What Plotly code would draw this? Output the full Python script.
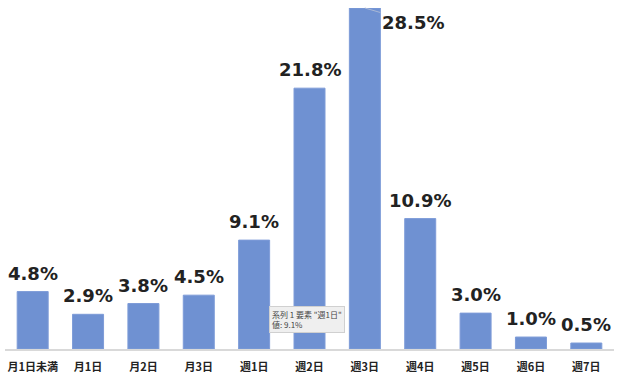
import plotly.graph_objects as go

categories = ["月1日未満", "月1日", "月2日", "月3日", "週1日", "週2日", "週3日", "週4日", "週5日", "週6日", "週7日"]
values = [4.8, 2.9, 3.8, 4.5, 9.1, 21.8, 28.5, 10.9, 3.0, 1.0, 0.5]
labels = [f"{v:.1f}%" for v in values]

tooltip_series = "系列 1"
tooltip_category = "週1日"
tooltip_value = "9.1%"

fig = go.Figure()
fig.add_trace(go.Bar(
    x=categories, y=values,
    marker=dict(color="#6F91D2", line=dict(color="#7E9CD8", width=1)),
    hoverinfo="skip",
))

label_font = dict(family="DejaVu Sans", size=18, color="#222222", weight="bold")
for i, (c, v, t) in enumerate(zip(categories, values, labels)):
    if v == max(values):
        fig.add_annotation(x=c, y=v, text=t, showarrow=True, arrowhead=0,
                           arrowwidth=1, arrowcolor="#A9B8D6", ax=48, ay=14,
                           font=label_font, xanchor="center", yanchor="middle")
    else:
        fig.add_annotation(x=c, y=v, text=t, showarrow=False, yanchor="bottom",
                           yshift=6, font=label_font)

# Excel tooltip captured in the screenshot
fig.add_annotation(x=categories[4], y=0, xref="x", yref="y",
                   text=f'{tooltip_series} 要素 "{tooltip_category}"<br>値: {tooltip_value}',
                   showarrow=False, align="left", xanchor="left", yanchor="bottom",
                   xshift=15, yshift=16,
                   font=dict(family="Noto Sans CJK JP", size=8, color="#444444"),
                   bgcolor="#EFEFEF", bordercolor="#D0D0D0", borderwidth=1, borderpad=2)

fig.update_layout(
    width=620, height=381,
    margin=dict(l=5, r=6, t=8, b=32),
    paper_bgcolor="white", plot_bgcolor="white",
    bargap=0.44, showlegend=False,
    xaxis=dict(showline=True, linecolor="#D9D9D9", linewidth=2, ticks="",
               ticklabelstandoff=7,
               tickfont=dict(family="Noto Sans CJK JP", size=11, color="#222222", weight="bold"),
               showgrid=False),
    yaxis=dict(range=[0, 28.5], visible=False, showgrid=False),
)

fig.write_html("out.html", config={"displayModeBar": False},
               post_script="document.body.style.margin='0';")
